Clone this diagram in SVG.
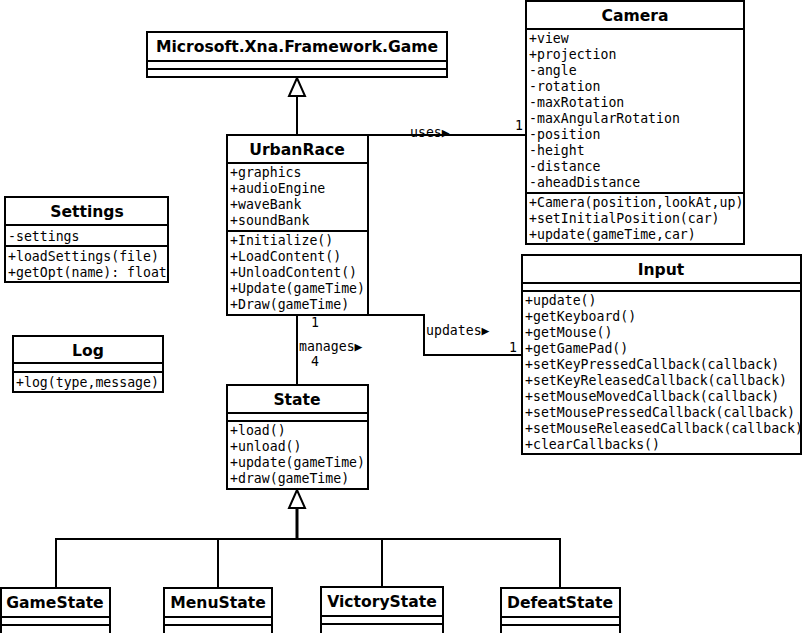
<svg xmlns="http://www.w3.org/2000/svg" width="802" height="633" viewBox="0 0 802 633">
<style>
.box{fill:#fff;stroke:#000;stroke-width:2}
.sep{stroke:#000;stroke-width:2}
.t{font-family:"DejaVu Sans",sans-serif;font-weight:bold;font-size:15.6px;text-anchor:middle;fill:#000}
.m{font-family:"DejaVu Sans Mono",monospace;font-size:13.2px;fill:#000}
.c{fill:none;stroke:#000;stroke-width:2}
.tri{fill:#fff;stroke:#000;stroke-width:2}
</style>
<rect width="802" height="633" fill="#fff"/>
<g id="connectors">
<path class="c" d="M297,96 V135"/>
<path class="c" d="M368,135 H526"/>
<path class="c" d="M368,315 H424 V355 H522"/>
<path class="c" d="M297,315 V385"/>
<path class="c" d="M297,508 V539" style="stroke-width:3"/>
<path class="c" d="M56,588 V539 H560 V588 M218,539 V588 M382,539 V588"/>
<polygon class="tri" points="297,78 289,96 305,96"/>
<polygon class="tri" points="297,490 289,508 305,508"/>
<text class="m" x="410" y="137">uses▶</text>
<text class="m" x="515" y="130">1</text>
<text class="m" x="426" y="335">updates▶</text>
<text class="m" x="509" y="352">1</text>
<text class="m" x="311" y="327">1</text>
<text class="m" x="299" y="351">manages▶</text>
<text class="m" x="311" y="366">4</text>
</g>
<g id="game">
<rect class="box" x="147" y="32" width="300" height="45"/>
<path class="sep" d="M147,61 H447 M147,69 H447"/>
<text class="t" x="297" y="52">Microsoft.Xna.Framework.Game</text>
</g>
<g id="camera">
<rect class="box" x="526" y="1" width="218" height="243"/>
<path class="sep" d="M526,29 H744 M526,193 H744"/>
<text class="t" x="635" y="21">Camera</text>
<text class="m" x="529" y="43">+view</text>
<text class="m" x="529" y="59">+projection</text>
<text class="m" x="529" y="75">-angle</text>
<text class="m" x="529" y="91">-rotation</text>
<text class="m" x="529" y="107">-maxRotation</text>
<text class="m" x="529" y="123">-maxAngularRotation</text>
<text class="m" x="529" y="139">-position</text>
<text class="m" x="529" y="155">-height</text>
<text class="m" x="529" y="171">-distance</text>
<text class="m" x="529" y="187">-aheadDistance</text>
<text class="m" x="529" y="207">+Camera(position,lookAt,up)</text>
<text class="m" x="529" y="223">+setInitialPosition(car)</text>
<text class="m" x="529" y="239">+update(gameTime,car)</text>
</g>
<g id="urbanrace">
<rect class="box" x="227" y="135" width="141" height="180"/>
<path class="sep" d="M227,163 H368 M227,231 H368"/>
<text class="t" x="297" y="155">UrbanRace</text>
<text class="m" x="230" y="177">+graphics</text>
<text class="m" x="230" y="193">+audioEngine</text>
<text class="m" x="230" y="209">+waveBank</text>
<text class="m" x="230" y="225">+soundBank</text>
<text class="m" x="230" y="245">+Initialize()</text>
<text class="m" x="230" y="261">+LoadContent()</text>
<text class="m" x="230" y="277">+UnloadContent()</text>
<text class="m" x="230" y="293">+Update(gameTime)</text>
<text class="m" x="230" y="309">+Draw(gameTime)</text>
</g>
<g id="settings">
<rect class="box" x="5" y="197" width="163" height="85"/>
<path class="sep" d="M5,225 H168 M5,246 H168"/>
<text class="t" x="87" y="217">Settings</text>
<text class="m" x="8" y="241">-settings</text>
<text class="m" x="8" y="261">+loadSettings(file)</text>
<text class="m" x="8" y="277">+getOpt(name): float</text>
</g>
<g id="log">
<rect class="box" x="13" y="336" width="150" height="56"/>
<path class="sep" d="M13,363 H163 M13,372 H163"/>
<text class="t" x="88" y="356">Log</text>
<text class="m" x="16" y="387">+log(type,message)</text>
</g>
<g id="input">
<rect class="box" x="522" y="255" width="279" height="199"/>
<path class="sep" d="M522,283 H801 M522,291 H801"/>
<text class="t" x="661" y="275">Input</text>
<text class="m" x="525" y="305">+update()</text>
<text class="m" x="525" y="321">+getKeyboard()</text>
<text class="m" x="525" y="337">+getMouse()</text>
<text class="m" x="525" y="353">+getGamePad()</text>
<text class="m" x="525" y="369">+setKeyPressedCallback(callback)</text>
<text class="m" x="525" y="385">+setKeyReleasedCallback(callback)</text>
<text class="m" x="525" y="401">+setMouseMovedCallback(callback)</text>
<text class="m" x="525" y="417">+setMousePressedCallback(callback)</text>
<text class="m" x="525" y="433">+setMouseReleasedCallback(callback)</text>
<text class="m" x="525" y="449">+clearCallbacks()</text>
</g>
<g id="state">
<rect class="box" x="227" y="385" width="141" height="104"/>
<path class="sep" d="M227,413 H368 M227,421 H368"/>
<text class="t" x="297" y="405">State</text>
<text class="m" x="230" y="435">+load()</text>
<text class="m" x="230" y="451">+unload()</text>
<text class="m" x="230" y="467">+update(gameTime)</text>
<text class="m" x="230" y="483">+draw(gameTime)</text>
</g>
<g id="gamestate">
<rect class="box" x="1" y="588" width="109" height="50"/>
<path class="sep" d="M1,617 H110 M1,625 H110"/>
<text class="t" x="55" y="608">GameState</text>
</g>
<g id="menustate">
<rect class="box" x="164" y="588" width="108" height="50"/>
<path class="sep" d="M164,617 H272 M164,625 H272"/>
<text class="t" x="218" y="608">MenuState</text>
</g>
<g id="victorystate">
<rect class="box" x="321" y="587" width="122" height="50"/>
<path class="sep" d="M321,616 H443 M321,624 H443"/>
<text class="t" x="382" y="607">VictoryState</text>
</g>
<g id="defeatstate">
<rect class="box" x="501" y="588" width="119" height="50"/>
<path class="sep" d="M501,617 H620 M501,625 H620"/>
<text class="t" x="560" y="608">DefeatState</text>
</g>
</svg>
